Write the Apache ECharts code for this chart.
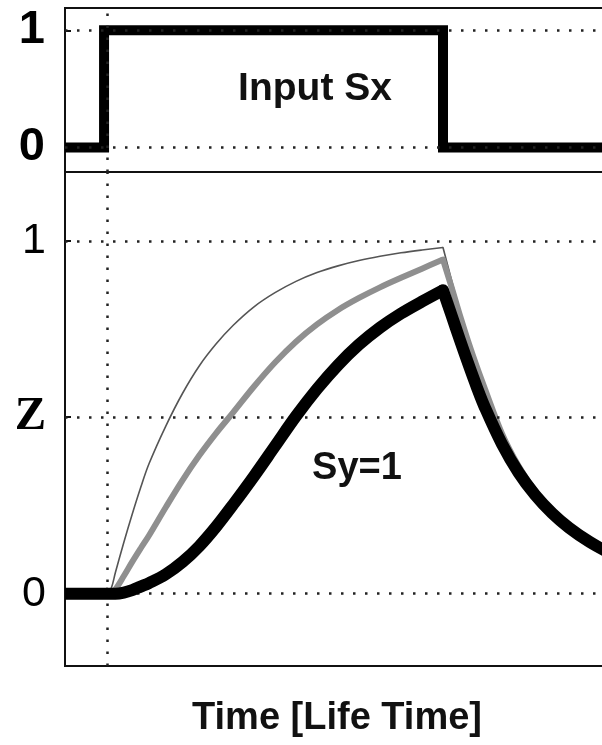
<!DOCTYPE html>
<html>
<head>
<meta charset="utf-8">
<script src="https://cdn.jsdelivr.net/npm/echarts@6/dist/echarts.min.js"></script>
<style>
  html, body { margin: 0; padding: 0; background: #ffffff; }
  #chart { width: 602px; height: 745px; }
</style>
</head>
<body>
<div id="chart"></div>
<script>
// Sample times (in life times) shared by the three response curves
const time = [0, 1.0, 1.1, 1.2, 1.4, 1.6, 1.8, 2.0, 2.4, 2.8, 3.2, 3.6, 4.0, 4.5, 5.0, 5.5,
  6.0, 6.5, 7.0, 7.5, 8.0, 8.5, 9.0, 9.2, 9.4, 9.6, 9.8, 10.0, 10.4, 10.8, 11.2, 11.6,
  12.0, 12.5, 13.0, 13.5, 14.0];

// Fast response (thin line)
const zFast = [0, 0, 0.015, 0.06, 0.145, 0.225, 0.3, 0.368, 0.475, 0.568, 0.646, 0.708,
  0.76, 0.813, 0.853, 0.885, 0.91, 0.929, 0.944, 0.956, 0.966, 0.974, 0.981,
  0.89, 0.80, 0.722, 0.65, 0.585, 0.46, 0.364, 0.291, 0.235, 0.19, 0.148, 0.115, 0.09, 0.071];

// Intermediate response (grey line)
const zMid = [0, 0, 0, 0.012, 0.05, 0.09, 0.128, 0.165, 0.245, 0.322, 0.392, 0.455,
  0.513, 0.587, 0.655, 0.714, 0.763, 0.804, 0.838, 0.868, 0.895, 0.921, 0.947,
  0.87, 0.79, 0.715, 0.645, 0.58, 0.455, 0.362, 0.29, 0.234, 0.19, 0.148, 0.115, 0.09, 0.071];

// Slow response, Sy = 1 (thick black line)
const zSlow = [0, 0, 0, 0, 0.003, 0.01, 0.02, 0.03, 0.055, 0.09, 0.135, 0.19,
  0.252, 0.333, 0.418, 0.503, 0.58, 0.648, 0.706, 0.754, 0.794, 0.828, 0.86,
  0.79, 0.72, 0.652, 0.587, 0.527, 0.425, 0.343, 0.279, 0.228, 0.187, 0.146, 0.114, 0.089, 0.07];

// Input pulse Sx
const inputTime = [0, 0.93, 0.93, 9.0, 9.0, 14.0];
const inputValue = [0, 0, 1, 1, 0, 0];
const switchOffTime = 9.0;

// Axis ticks and their labels
const inputTicks = [0, 1];
const inputTickLabels = ['0', '1'];
const zTicks = [0, 0.5, 1];
const zTickLabels = ['0', 'Z', '1'];
const onsetTime = 1;
const timeMin = 0;
const timeMax = 14;

const pairs = (xs, ys) => xs.map((x, i) => [x, ys[i]]);
const cut = time.indexOf(switchOffTime);
// rising phase (input on) and relaxation phase (input off), split at the switch-off corner
const risePart = ys => pairs(time.slice(0, cut + 1), ys.slice(0, cut + 1));
const fallPart = ys => pairs(time.slice(cut), ys.slice(cut));

const SANS = 'Liberation Sans, Arial, Helvetica, sans-serif';
const SERIF = 'Liberation Serif, Times New Roman, serif';
const INK = '#111111';

const dotted = {
  color: '#222222',
  width: 2.5,
  type: [2.5, 9.5],
  cap: 'butt'
};

function guideSeries(xIdx, yIdx, yValues) {
  return {
    type: 'line',
    xAxisIndex: xIdx,
    yAxisIndex: yIdx,
    data: [],
    z: 1,
    silent: true,
    markLine: {
      silent: true,
      symbol: ['none', 'none'],
      label: { show: false },
      lineStyle: dotted,
      animation: false,
      data: yValues.map(v => ({ yAxis: v })).concat([{ xAxis: onsetTime }])
    }
  };
}

function timeAxis(gridIndex) {
  return {
    type: 'value',
    gridIndex: gridIndex,
    min: timeMin,
    max: timeMax,
    axisLine: { show: false },
    axisLabel: { show: false },
    splitLine: { show: false },
    axisTick: {
      show: true,
      inside: true,
      length: 6,
      customValues: [onsetTime],
      lineStyle: { color: INK, width: 2 }
    }
  };
}

function responseSeries(name, ys, z, lineStyle) {
  const base = {
    name: name,
    type: 'line',
    xAxisIndex: 1,
    yAxisIndex: 1,
    symbol: 'none',
    smooth: 0.35,
    z: z
  };
  return [
    Object.assign({}, base, {
      data: risePart(ys),
      lineStyle: Object.assign({ cap: 'butt', join: 'round' }, lineStyle)
    }),
    Object.assign({}, base, {
      data: fallPart(ys),
      lineStyle: Object.assign({ cap: 'round', join: 'round' }, lineStyle)
    })
  ];
}

const chart = echarts.init(document.getElementById('chart'), null, { renderer: 'canvas' });

chart.setOption({
  animation: false,
  backgroundColor: '#ffffff',
  grid: [
    { left: 65, top: 8, width: 588, height: 164, show: true,
      borderColor: INK, borderWidth: 2, containLabel: false, outerBoundsMode: 'none' },
    { left: 65, top: 172, width: 588, height: 494, show: true,
      borderColor: INK, borderWidth: 2, containLabel: false, outerBoundsMode: 'none' }
  ],
  xAxis: [timeAxis(0), timeAxis(1)],
  yAxis: [
    {
      type: 'value',
      gridIndex: 0,
      min: -0.21,
      max: 1.19,
      splitLine: { show: false },
      axisLine: { show: true, lineStyle: { color: INK, width: 2 } },
      axisTick: {
        show: true, inside: true, length: 6, customValues: inputTicks,
        lineStyle: { color: INK, width: 2 }
      },
      axisLabel: {
        customValues: inputTicks,
        margin: 20,
        color: '#000',
        fontFamily: SANS,
        fontWeight: 'bold',
        fontSize: 47,
        formatter: v => inputTickLabels[inputTicks.indexOf(v)]
      }
    },
    {
      type: 'value',
      gridIndex: 1,
      min: -0.205,
      max: 1.195,
      splitLine: { show: false },
      axisLine: { show: true, lineStyle: { color: INK, width: 2 } },
      axisTick: {
        show: true, inside: true, length: 6, customValues: zTicks,
        lineStyle: { color: INK, width: 2 }
      },
      axisLabel: {
        customValues: zTicks,
        margin: 19,
        color: '#000',
        fontFamily: SANS,
        fontSize: 43,
        formatter: v => {
          const s = zTickLabels[zTicks.indexOf(v)];
          return s === 'Z' ? '{z|Z}' : s;
        },
        rich: {
          z: { fontFamily: SERIF, fontWeight: 'bold', fontSize: 47, color: '#000' }
        }
      }
    }
  ],
  series: [
    guideSeries(0, 0, inputTicks),
    guideSeries(1, 1, zTicks),
    {
      name: 'Input Sx',
      type: 'line',
      xAxisIndex: 0,
      yAxisIndex: 0,
      data: pairs(inputTime, inputValue),
      symbol: 'none',
      z: 3,
      lineStyle: { color: '#000', width: 10, join: 'miter' }
    }
  ].concat(
    responseSeries('fast', zFast, 3, { color: '#555555', width: 1.6 }),
    responseSeries('mid', zMid, 4, { color: '#8f8f8f', width: 6 }),
    responseSeries('Sy=1', zSlow, 5, { color: '#000000', width: 12 })
  ),
  graphic: [
    {
      type: 'text', x: 315, y: 89, z: 10,
      style: { text: 'Input Sx', font: 'bold 39px ' + SANS, fill: '#111',
        align: 'center', verticalAlign: 'middle' }
    },
    {
      type: 'text', x: 357, y: 469, z: 10,
      style: { text: 'Sy=1', font: 'bold 38px ' + SANS, fill: '#111',
        align: 'center', verticalAlign: 'middle' }
    },
    {
      type: 'text', x: 337, y: 719, z: 10,
      style: { text: 'Time [Life Time]', font: 'bold 38px ' + SANS, fill: '#111',
        align: 'center', verticalAlign: 'middle' }
    }
  ]
});
</script>
</body>
</html>
